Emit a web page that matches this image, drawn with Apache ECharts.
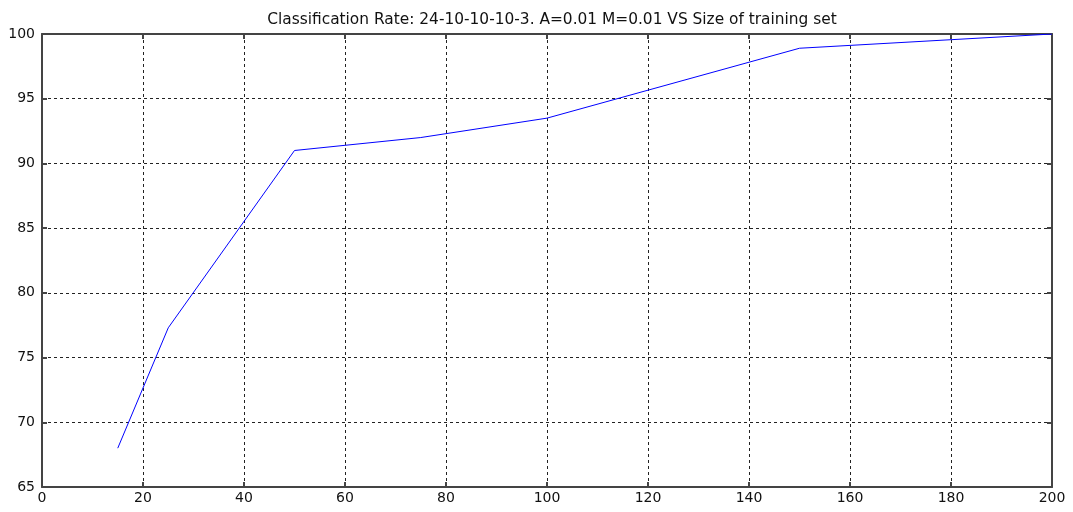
<!DOCTYPE html>
<html>
<head>
<meta charset="utf-8">
<script src="https://cdn.jsdelivr.net/npm/echarts@6/dist/echarts.min.js"></script>
<style>
  html, body { margin: 0; padding: 0; background: #fff; }
  #chart { width: 1073px; height: 512px; }
</style>
</head>
<body>
<div id="chart"></div>
<script>
// Training-set size vs. classification rate (%)
const trainingSize = [15, 25, 50, 75, 100, 150, 200];
const classificationRate = [68, 77.3, 91, 92, 93.5, 98.9, 100];
const titleText = 'Classification Rate: 24-10-10-10-3. A=0.01 M=0.01 VS Size of training set';

const frameColor = '#444';
const gridLine = { show: true, lineStyle: { color: '#222', type: [3, 3], width: 1 } };
const labelFont = { fontFamily: 'DejaVu Sans, Verdana, sans-serif', fontSize: 14, color: '#111' };

const chart = echarts.init(document.getElementById('chart'), null, { renderer: 'canvas' });

chart.setOption({
  backgroundColor: '#fff',
  animation: false,
  title: {
    text: titleText,
    left: 547,
    textAlign: 'center',
    top: 7,
    textStyle: { fontFamily: 'DejaVu Sans, Verdana, sans-serif', fontSize: 15.4, fontWeight: 'normal', color: '#111' }
  },
  grid: { left: 42, top: 34, right: 21, bottom: 25, containLabel: false },
  xAxis: [
    {
      type: 'value', min: 0, max: 200, interval: 20,
      axisLine: { show: true, onZero: false, lineStyle: { color: frameColor, width: 2 } },
      axisTick: { show: true, inside: true, length: 5, lineStyle: { color: frameColor, width: 2 } },
      axisLabel: Object.assign({ margin: 4 }, labelFont),
      splitLine: gridLine
    },
    {
      type: 'value', min: 0, max: 200, interval: 20, position: 'top',
      axisLine: { show: true, onZero: false, lineStyle: { color: frameColor, width: 2 } },
      axisTick: { show: true, inside: true, length: 5, lineStyle: { color: frameColor, width: 2 } },
      axisLabel: { show: false },
      splitLine: { show: false }
    }
  ],
  yAxis: [
    {
      type: 'value', min: 65, max: 100, interval: 5,
      axisLine: { show: true, onZero: false, lineStyle: { color: frameColor, width: 2 } },
      axisTick: { show: true, inside: true, length: 5, lineStyle: { color: frameColor, width: 2 } },
      axisLabel: Object.assign({ margin: 7 }, labelFont),
      splitLine: gridLine
    },
    {
      type: 'value', min: 65, max: 100, interval: 5, position: 'right',
      axisLine: { show: true, onZero: false, lineStyle: { color: frameColor, width: 2 } },
      axisTick: { show: true, inside: true, length: 5, lineStyle: { color: frameColor, width: 2 } },
      axisLabel: { show: false },
      splitLine: { show: false }
    }
  ],
  series: [
    {
      type: 'line',
      xAxisIndex: 0,
      yAxisIndex: 0,
      data: trainingSize.map((x, i) => [x, classificationRate[i]]),
      showSymbol: false,
      symbol: 'none',
      lineStyle: { color: '#0000ff', width: 1 },
      z: 5
    }
  ]
});
</script>
</body>
</html>
